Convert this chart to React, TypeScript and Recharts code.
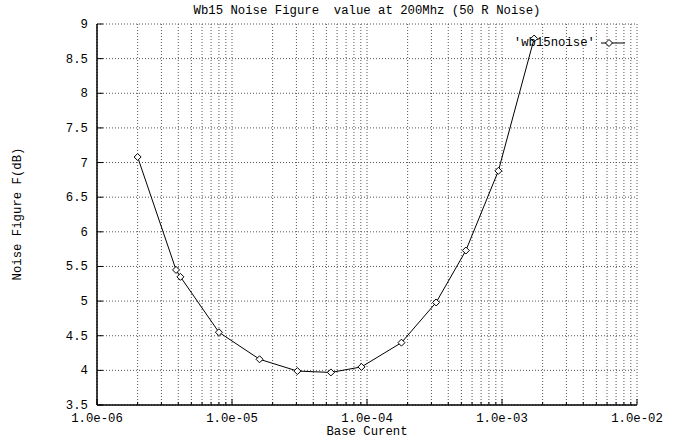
import { CartesianGrid, Line, LineChart, XAxis, YAxis } from "recharts"

// measured noise figure vs base current (50 ohm source, 200 MHz)
const baseCurrent = [2.0e-6, 3.85e-6, 4.15e-6, 8.0e-6, 1.6e-5, 3.05e-5, 5.4e-5, 9.1e-5, 1.8e-4, 3.25e-4, 5.4e-4, 9.4e-4, 1.73e-3]
const noiseFigure = [7.08, 5.45, 5.35, 4.55, 4.16, 3.99, 3.97, 4.05, 4.4, 4.98, 5.73, 6.88, 8.79]

const decades = [1e-6, 1e-5, 1e-4, 1e-3, 1e-2]
const minorSteps = [2, 3, 4, 5, 6, 7, 8, 9]
const yTicks = [3.5, 4, 4.5, 5, 5.5, 6, 6.5, 7, 7.5, 8, 8.5, 9]

const data = baseCurrent.map((x, i) => ({ x, nf: noiseFigure[i] }))

const xTicks: number[] = []
decades.forEach((d, i) => {
  xTicks.push(d)
  if (i < decades.length - 1) minorSteps.forEach((m) => xTicks.push(m * d))
})

const FONT = "'Liberation Mono', 'DejaVu Sans Mono', monospace"
const FS = 12.3

const isDecade = (v: number) => {
  const l = Math.log10(v)
  return Math.abs(l - Math.round(l)) < 1e-6
}

const fmtExp = (v: number) => {
  const e = Math.round(Math.log10(v))
  const sign = e < 0 ? "-" : "+"
  const abs = Math.abs(e)
  return `1.0e${sign}${abs < 10 ? "0" : ""}${abs}`
}

function BottomTick({ x, y, payload }: any) {
  const major = isDecade(payload.value)
  return (
    <g>
      <line x1={x} x2={x} y1={y} y2={y - (major ? 6 : 3)} stroke="#000" />
      {major && (
        <text x={x} y={y + 17} textAnchor="middle" fontFamily={FONT} fontSize={FS} fill="#000">
          {fmtExp(payload.value)}
        </text>
      )}
    </g>
  )
}

function TopTick({ x, y, payload }: any) {
  const major = isDecade(payload.value)
  return <line x1={x} x2={x} y1={y} y2={y + (major ? 6 : 3)} stroke="#000" />
}

function LeftTick({ x, y, payload }: any) {
  return (
    <g>
      <line x1={x} x2={x + 6} y1={y} y2={y} stroke="#000" />
      <text x={x - 9} y={y + 4} textAnchor="end" fontFamily={FONT} fontSize={FS} fill="#000">
        {String(payload.value)}
      </text>
    </g>
  )
}

function RightTick({ x, y }: any) {
  return <line x1={x} x2={x - 6} y1={y} y2={y} stroke="#000" />
}

function Diamond({ cx, cy }: any) {
  const r = 3.5
  return (
    <polygon
      points={`${cx},${cy - r} ${cx + r},${cy} ${cx},${cy + r} ${cx - r},${cy}`}
      fill="#fff"
      stroke="#000"
      strokeWidth={1}
    />
  )
}

const textStyle = { position: "absolute" as const, fontFamily: FONT, fontSize: FS, color: "#000", whiteSpace: "pre" as const, lineHeight: "16px" }

export default function App() {
  return (
    <div style={{ position: "absolute", left: 0, top: 0, width: 678, height: 438, background: "#fff" }}>
      <LineChart width={678} height={438} data={data} margin={{ top: 24, right: 41, bottom: 0, left: 0 }}>
        <CartesianGrid xAxisId="b" yAxisId="l" stroke="#555" strokeDasharray="1 2" />
        <XAxis
          xAxisId="b"
          dataKey="x"
          type="number"
          scale="log"
          domain={[1e-6, 1e-2]}
          allowDataOverflow
          ticks={xTicks}
          interval={0}
          height={33}
          tickSize={0}
          tickMargin={0}
          tickLine={false}
          tick={<BottomTick />}
          axisLine={{ stroke: "#000", strokeWidth: 1.5 }}
        />
        <XAxis
          xAxisId="t"
          orientation="top"
          dataKey="x"
          type="number"
          scale="log"
          domain={[1e-6, 1e-2]}
          allowDataOverflow
          ticks={xTicks}
          interval={0}
          height={0}
          tickSize={0}
          tickMargin={0}
          tickLine={false}
          tick={<TopTick />}
          axisLine={{ stroke: "#000", strokeWidth: 1.5 }}
        />
        <YAxis
          yAxisId="l"
          type="number"
          domain={[3.5, 9]}
          ticks={yTicks}
          interval={0}
          width={97}
          tickSize={0}
          tickMargin={0}
          tickLine={false}
          tick={<LeftTick />}
          axisLine={{ stroke: "#000", strokeWidth: 1.5 }}
        />
        <YAxis
          yAxisId="r"
          orientation="right"
          type="number"
          domain={[3.5, 9]}
          ticks={yTicks}
          interval={0}
          width={0}
          tickSize={0}
          tickMargin={0}
          tickLine={false}
          tick={<RightTick />}
          axisLine={{ stroke: "#000", strokeWidth: 1.5 }}
        />
        <Line
          xAxisId="b"
          yAxisId="l"
          type="linear"
          dataKey="nf"
          stroke="#000"
          strokeWidth={1}
          dot={<Diamond />}
          activeDot={false}
          isAnimationActive={false}
        />
      </LineChart>

      <div style={{ ...textStyle, left: 0, width: 734, top: 3, textAlign: "center" }}>
        Wb15 Noise Figure  value at 200Mhz (50 R Noise)
      </div>
      <div style={{ ...textStyle, left: 0, width: 734, top: 424, textAlign: "center" }}>Base Curent</div>
      <div
        style={{
          ...textStyle,
          left: 18,
          top: 214,
          transform: "translate(-50%, -50%) rotate(-90deg)",
        }}
      >
        Noise Figure F(dB)
      </div>

      {/* key, upper right */}
      <div style={{ ...textStyle, right: 53, top: 35, display: "flex", alignItems: "center" }}>
        <span>'wb15noise'</span>
        <svg width={24} height={16} style={{ marginLeft: 6 }}>
          <line x1={0} x2={24} y1={8} y2={8} stroke="#000" />
          <polygon points="8,4.5 11.5,8 8,11.5 4.5,8" fill="#fff" stroke="#000" />
        </svg>
      </div>
    </div>
  )
}
